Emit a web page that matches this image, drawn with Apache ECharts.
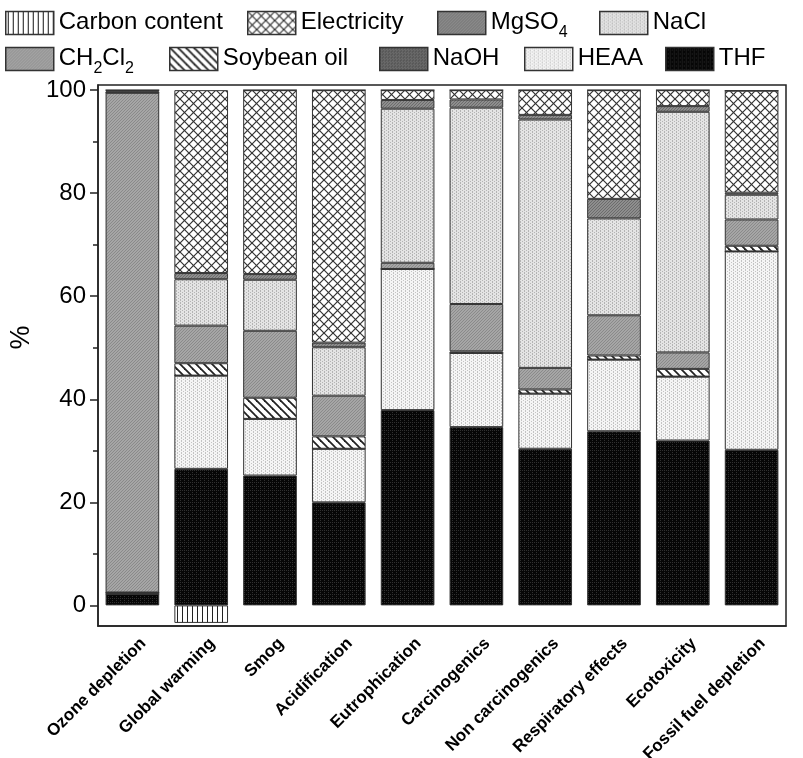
<!DOCTYPE html>
<html>
<head>
<meta charset="utf-8">
<script src="https://cdn.jsdelivr.net/npm/echarts@6/dist/echarts.min.js"></script>
<style>
  html, body { margin: 0; padding: 0; background: #fff; }
  #main { width: 803px; height: 758px; }
</style>
</head>
<body>
<div id="main"></div>
<script>
// impact categories
var categories = ['Ozone depletion', 'Global warming', 'Smog', 'Acidification', 'Eutrophication',
  'Carcinogenics', 'Non carcinogenics', 'Respiratory effects', 'Ecotoxicity', 'Fossil fuel depletion'];

// contribution (%) per source, bottom of stack first
var thf         = [2.2, 26.5, 25.2, 20.0, 37.9, 34.6, 30.4, 33.8, 32.0, 30.2];
var heaa        = [0,   18.1, 11.0, 10.4, 27.4, 14.4, 10.7, 13.9, 12.4, 38.5];
var naoh        = [0.3, 0,    0,    0,    0,    0,    0,    0,    0,    0];
var soybean     = [0,   2.4,  4.1,  2.4,  0,    0.3,  0.8,  0.8,  1.5,  1.1];
var ch2cl2      = [97.0, 7.3, 13.0, 7.9,  1.2,  9.2,  4.2,  7.8,  3.2,  5.1];
var nacl        = [0,   9.0,  9.9,  9.4,  29.9, 38.1, 48.2, 18.8, 46.7, 4.8];
var mgso4       = [0.3, 1.2,  1.1,  0.9,  1.7,  1.6,  0.9,  3.8,  1.1,  0.4];
var electricity = [0.2, 35.5, 35.7, 49.0, 1.9,  1.8,  4.8,  21.1, 3.1,  19.8];
var carbon      = [0,   -3.4, 0,    0,    0,    0,    0,    0,    0,    0];

var yLabels = [0, 20, 40, 60, 80, 100];
var yMinor = [10, 30, 50, 70, 90];

// legend order as in the figure
var legendNames = ['Carbon content', 'Electricity', 'MgSO4', 'NaCl', 'CH2Cl2', 'Soybean oil', 'NaOH', 'HEAA', 'THF'];

var FONT = "'Liberation Sans', Arial, sans-serif";

/* fill patterns */
function pat(w, h, bg, draw) {
  var c = document.createElement('canvas');
  c.width = w; c.height = h;
  var g = c.getContext('2d');
  g.fillStyle = bg;
  g.fillRect(0, 0, w, h);
  if (draw) draw(g);
  return { image: c, repeat: 'repeat' };
}
function dots(color, pts) {
  return function (g) {
    g.fillStyle = color;
    pts.forEach(function (p) { g.fillRect(p[0], p[1], 1, 1); });
  };
}

var fills = {
  'THF': pat(4, 4, '#060606', dots('#303030', [[0, 0], [2, 2], [0, 2]])),
  'HEAA': pat(4, 3, '#f5f5f5', dots('#c4c4c4', [[1, 0], [1, 2], [3, 1]])),
  'NaOH': pat(3, 3, '#6a6a6a', dots('#444', [[0, 0], [2, 1]])),
  'Soybean oil': pat(8, 8, '#fff', function (g) {
    g.strokeStyle = '#222'; g.lineWidth = 1.8;
    for (var k = -1; k <= 1; k++) {
      g.beginPath(); g.moveTo(k * 8 - 1, -1); g.lineTo(k * 8 + 9, 9); g.stroke();
    }
  }),
  'CH2Cl2': pat(3, 3, '#a6a6a6', dots('#8a8a8a', [[0, 0], [2, 1], [1, 2]])),
  'NaCl': pat(4, 3, '#e4e4e4', dots('#b4b4b4', [[0, 0], [0, 2], [2, 1]])),
  'MgSO4': pat(3, 3, '#8e8e8e', dots('#6c6c6c', [[0, 0], [2, 1], [1, 2]])),
  'Electricity': pat(9, 9, '#fff', function (g) {
    g.strokeStyle = '#333'; g.lineWidth = 1.2;
    g.beginPath(); g.moveTo(-1, -1); g.lineTo(10, 10); g.stroke();
    g.beginPath(); g.moveTo(10, -1); g.lineTo(-1, 10); g.stroke();
  }),
  'Carbon content': pat(5, 2, '#fff', function (g) {
    g.fillStyle = '#222'; g.fillRect(2, 0, 1, 2);
  })
};

var seriesData = [
  ['THF', thf], ['HEAA', heaa], ['NaOH', naoh], ['Soybean oil', soybean], ['CH2Cl2', ch2cl2],
  ['NaCl', nacl], ['MgSO4', mgso4], ['Electricity', electricity], ['Carbon content', carbon]
];

var series = seriesData.map(function (s) {
  return {
    name: s[0],
    type: 'bar',
    stack: 'total',
    barWidth: '78%',
    data: s[1],
    itemStyle: { color: fills[s[0]], borderColor: '#333', borderWidth: 1 },
    emphasis: { disabled: true }
  };
});

// legend positions
var legendLeft = [5, 247, 437, 599, 5, 169, 379, 524, 665];
var legendTop  = [10, 10, 10, 10, 46, 46, 46, 46, 46];

var rich = {
  n: { fontSize: 24, fontFamily: FONT, color: '#000', lineHeight: 26, verticalAlign: 'top' },
  s: { fontSize: 16, fontFamily: FONT, color: '#000', lineHeight: 16, padding: [15, 0, 0, 0], verticalAlign: 'top' }
};
function legendText(name) {
  if (name === 'MgSO4') return '{n|MgSO}{s|4}';
  if (name === 'CH2Cl2') return '{n|CH}{s|2}{n|Cl}{s|2}';
  return '{n|' + name + '}';
}

var legends = legendNames.map(function (n, i) {
  return {
    data: [n],
    left: legendLeft[i],
    top: legendTop[i],
    itemWidth: 48,
    itemHeight: 23,
    padding: 0,
    selectedMode: false,
    icon: 'rect',
    itemStyle: { borderColor: '#333', borderWidth: 1.5 },
    formatter: legendText,
    textStyle: { rich: rich, fontSize: 24, fontFamily: FONT, color: '#000' }
  };
});

var chart = echarts.init(document.getElementById('main'));
var option = {
  animation: false,
  legend: legends,
  grid: {
    left: 98, right: 17, top: 85, bottom: 132,
    outerBoundsMode: 'none',
    containLabel: false,
    show: true, borderColor: '#222', borderWidth: 1.5, backgroundColor: 'transparent'
  },
  xAxis: {
    type: 'category',
    data: categories,
    axisLine: { onZero: false, lineStyle: { color: '#222', width: 1.5 } },
    axisTick: { show: false },
    axisLabel: {
      interval: 0, rotate: 45, margin: 4, align: 'right', verticalAlign: 'top',
      padding: [7, 0, 0, 0],
      fontSize: 17, fontWeight: 'bold', fontFamily: FONT, color: '#000'
    }
  },
  yAxis: [{
    type: 'value',
    min: -4, max: 101,
    name: '%',
    nameLocation: 'middle',
    nameGap: 55,
    nameTextStyle: { fontSize: 27, fontFamily: FONT, color: '#000', padding: [0, 0, 0, 36] },
    axisLine: { show: true, lineStyle: { color: '#222', width: 1.5 } },
    axisTick: { show: true, inside: false, length: 8, customValues: yLabels, lineStyle: { color: '#222', width: 1.5 } },
    axisLabel: { customValues: yLabels, fontSize: 24, fontFamily: FONT, color: '#000', margin: 12 },
    splitLine: { show: false }
  }, {
    type: 'value',
    min: -4, max: 101,
    position: 'left',
    offset: 0,
    axisLine: { show: false },
    axisTick: { show: true, length: 5, customValues: yMinor, lineStyle: { color: '#222', width: 1.5 } },
    axisLabel: { show: false },
    splitLine: { show: false }
  }],
  series: series
};
chart.setOption(option);
window.onresize = chart.resize;
</script>
</body>
</html>
